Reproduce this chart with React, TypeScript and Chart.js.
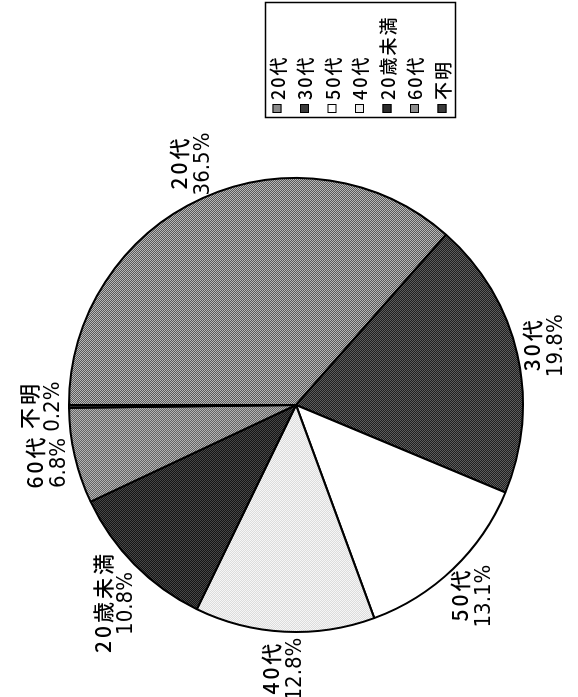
import React, { useEffect, useRef } from "react";
import { Chart, registerables } from "chart.js";

Chart.register(...registerables);

// ---- data ----
const categories = ["20代", "30代", "50代", "40代", "20歳未満", "60代", "不明"];
const shares = [36.5, 19.8, 13.1, 12.8, 10.8, 6.8, 0.2];
const percentLabels = ["36.5%", "19.8%", "13.1%", "12.8%", "10.8%", "6.8%", "0.2%"];

// ---- styles ----
const CJK = "'Noto Sans CJK JP', 'Noto Sans CJK SC', sans-serif";
const NARROW = "'Liberation Sans Narrow', 'Arial Narrow', 'DejaVu Sans Condensed', sans-serif";
const checkerPairs: [string, string][] = [
  ["#5a5a5a", "#b8b8b8"],
  ["#1f1f1f", "#5c5c5c"],
  ["#ffffff", "#ffffff"],
  ["#dcdcdc", "#f6f6f6"],
  ["#151515", "#474747"],
  ["#646464", "#b4b4b4"],
  ["#333333", "#333333"],
];
const legendSolid = ["#8a8a8a", "#3a3a3a", "#ffffff", "#ececec", "#2c2c2c", "#8c8c8c", "#3a3a3a"];

const W = 697; // canvas drawn unrotated, then turned 90° CCW
const H = 578;

function checker(a: string, b: string): CanvasPattern | string {
  const c = document.createElement("canvas");
  c.width = 2;
  c.height = 2;
  const x = c.getContext("2d");
  if (!x) return a;
  x.fillStyle = a;
  x.fillRect(0, 0, 2, 2);
  x.fillStyle = b;
  x.fillRect(0, 0, 1, 1);
  x.fillRect(1, 1, 1, 1);
  return x.createPattern(c, "repeat") || a;
}

const LABEL_CJK = `500 21px ${CJK}`;
const LABEL_PCT = `22px ${NARROW}`;
const CJK_SPACING = 3;

const labelPlugin = {
  id: "sliceLabels",
  afterDatasetsDraw(chart: any) {
    const ctx: CanvasRenderingContext2D = chart.ctx;
    const arcs = chart.getDatasetMeta(0).data;
    ctx.save();
    ctx.fillStyle = "#000";
    ctx.textBaseline = "middle";
    ctx.textAlign = "center";
    arcs.forEach((arc: any, i: number) => {
      const p = arc.getProps(["x", "y", "startAngle", "endAngle", "outerRadius"], true);
      const mid = (p.startAngle + p.endAngle) / 2;
      const dx = Math.cos(mid);
      const dy = Math.sin(mid);
      ctx.font = LABEL_CJK;
      (ctx as any).letterSpacing = `${CJK_SPACING}px`;
      const w1 = ctx.measureText(categories[i]).width - CJK_SPACING;
      ctx.font = LABEL_PCT;
      (ctx as any).letterSpacing = "0px";
      const w2 = ctx.measureText(percentLabels[i]).width;
      const w = Math.max(w1, w2);
      const h = 44;
      const gap = 6;
      const cx = p.x + dx * (p.outerRadius + gap) + (dx * w) / 2;
      const cy = p.y + dy * (p.outerRadius + gap) + (dy * h) / 2;
      ctx.font = LABEL_CJK;
      (ctx as any).letterSpacing = `${CJK_SPACING}px`;
      ctx.fillText(categories[i], cx + CJK_SPACING / 2, cy - 12);
      ctx.font = LABEL_PCT;
      (ctx as any).letterSpacing = "0px";
      ctx.fillText(percentLabels[i], cx, cy + 12);
    });
    ctx.restore();
  },
};

const legendPlugin = {
  id: "boxLegend",
  afterDraw(chart: any) {
    const ctx: CanvasRenderingContext2D = chart.ctx;
    const left = 579;
    const top = 265;
    const bw = 115;
    const bh = 190;
    ctx.save();
    ctx.strokeStyle = "#000";
    ctx.lineWidth = 1.5;
    ctx.strokeRect(left + 0.5, top + 0.5, bw, bh);
    ctx.font = `500 18px ${CJK}`;
    (ctx as any).letterSpacing = "2px";
    ctx.textBaseline = "middle";
    ctx.textAlign = "left";
    categories.forEach((name, i) => {
      const yy = top + 12 + i * 27.5;
      ctx.fillStyle = legendSolid[i];
      ctx.fillRect(left + 5, yy - 4.5, 9, 9);
      ctx.lineWidth = 1;
      ctx.strokeStyle = "#000";
      ctx.strokeRect(left + 5.5, yy - 4, 8, 8);
      ctx.fillStyle = "#000";
      ctx.fillText(name, left + 18, yy + 1);
    });
    ctx.restore();
  },
};

export default function App() {
  const ref = useRef<HTMLCanvasElement | null>(null);
  useEffect(() => {
    if (!ref.current) return;
    const fills = checkerPairs.map(([a, b]) => checker(a, b));
    const chart = new Chart(ref.current, {
      type: "pie",
      data: {
        labels: categories,
        datasets: [
          {
            data: shares,
            backgroundColor: fills as any,
            borderColor: "#000",
            borderWidth: 2,
          },
        ],
      },
      options: {
        responsive: false,
        animation: false,
        rotation: 0,
        layout: { padding: { left: 64, right: 177, top: 68, bottom: 54 } },
        plugins: { legend: { display: false }, tooltip: { enabled: false } },
      },
      plugins: [labelPlugin, legendPlugin],
    });
    return () => chart.destroy();
  }, []);
  return (
    <div
      style={{
        position: "fixed",
        left: 0,
        top: 0,
        width: H,
        height: W,
        background: "#fff",
        overflow: "hidden",
      }}
    >
      <canvas
        ref={ref}
        width={W}
        height={H}
        style={{
          position: "absolute",
          left: 0,
          top: 0,
          transformOrigin: "0 0",
          transform: `translate(0px, ${W}px) rotate(-90deg)`,
        }}
      />
    </div>
  );
}
